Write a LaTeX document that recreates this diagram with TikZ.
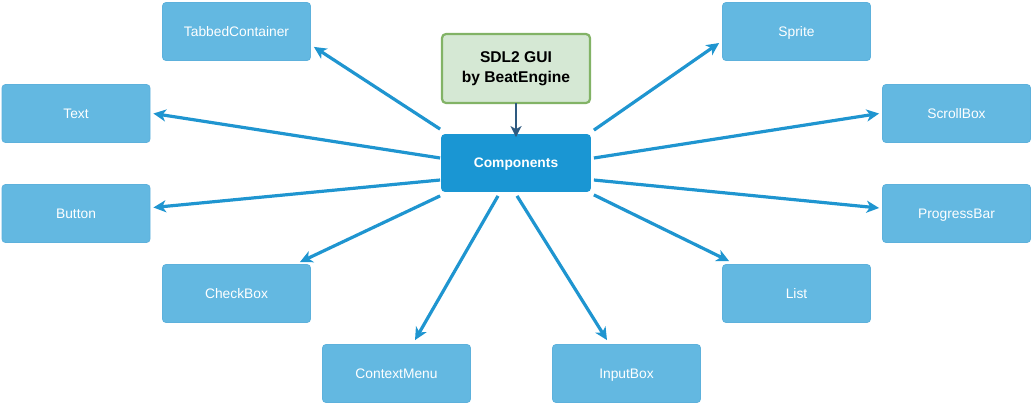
\documentclass[tikz,border=0pt]{standalone}
\usepackage{fontspec}
\setmainfont{Liberation Sans}
\usetikzlibrary{arrows.meta}
\definecolor{boxfill}{HTML}{63B8E1}
\definecolor{boxline}{HTML}{5DB1DC}
\definecolor{compfill}{HTML}{1A96D3}
\definecolor{arrcol}{HTML}{1F95D0}
\definecolor{sdlfill}{HTML}{D5E8D4}
\definecolor{sdlline}{HTML}{82B366}
\definecolor{darkarr}{HTML}{2E5A80}
\begin{document}
\begin{tikzpicture}[x=1pt,y=-1pt,
  item/.style={draw=boxline,fill=boxfill,line width=0.8pt,rounded corners=3.5pt,
    minimum width=148pt,minimum height=58pt,inner sep=0pt,text=white,
    text height=9.9pt,text depth=0pt,font=\fontsize{13.8}{16}\selectfont},
  comp/.style={draw=compfill,fill=compfill,line width=0.8pt,rounded corners=3.5pt,
    minimum width=149pt,minimum height=57pt,inner sep=0pt,text=white,
    text height=9.9pt,text depth=0pt,font=\bfseries\fontsize{13.8}{16}\selectfont},
  sdl/.style={draw=sdlline,fill=sdlfill,line width=2.2pt,rounded corners=4pt,
    minimum width=148pt,minimum height=69pt,inner sep=0pt,align=center,font=\bfseries\fontsize{15.6}{20}\selectfont},
  arr/.style={draw=arrcol,line width=3.2pt,-{Stealth[length=12.5pt,width=12pt,inset=3.5pt]}},
  darr/.style={draw=darkarr,line width=2.5pt,-{Stealth[length=11pt,width=11pt,inset=3pt]}}
]
\useasboundingbox (0,0) rectangle (1033,405);
\node[sdl] (sdl) at (516,68.5) {SDL2 GUI\\by BeatEngine};
\node[comp] (comp) at (516,163) {Components};
\node[item] (tab) at (236.5,31.5) {TabbedContainer};
\node[item] (text) at (76,113.5) {Text};
\node[item] (button) at (76,213.5) {Button};
\node[item] (check) at (236.5,293.5) {CheckBox};
\node[item] (ctx) at (396.5,373.5) {ContextMenu};
\node[item] (input) at (626.5,373.5) {InputBox};
\node[item] (list) at (796.5,293.5) {List};
\node[item] (prog) at (956.5,213.5) {ProgressBar};
\node[item] (scroll) at (956.5,113.5) {ScrollBox};
\node[item] (sprite) at (796.5,31.5) {Sprite};

\draw[darr] ([yshift=1]sdl.south) -- ([yshift=-3]comp.north);

\draw[arr] ([shift={(-1,-5)}]comp.north west) -- ([shift={(3,-14)}]tab.south east);
\draw[arr] ([shift={(-1,-5)}]comp.west) -- ([shift={(3,0)}]text.east);
\draw[arr] ([shift={(-1,17)}]comp.west) -- ([shift={(3,-6)}]button.east);
\draw[arr] ([shift={(-1,4)}]comp.south west) -- ([shift={(-11,-2)}]check.north east);
\draw[arr] ([shift={(-18,4)}]comp.south) -- ([shift={(18.5,-4)}]ctx.north);
\draw[arr] ([shift={(1,4)}]comp.south) -- ([shift={(-19.5,-4)}]input.north);
\draw[arr] ([shift={(3,3)}]comp.south east) -- ([shift={(7,-3)}]list.north west);
\draw[arr] ([shift={(3,17)}]comp.east) -- ([shift={(-3,-5.5)}]prog.west);
\draw[arr] ([shift={(3,-5)}]comp.east) -- ([shift={(-3,0)}]scroll.west);
\draw[arr] ([shift={(3,-4)}]comp.north east) -- ([shift={(-3,11.5)}]sprite.west);
\end{tikzpicture}
\end{document}
